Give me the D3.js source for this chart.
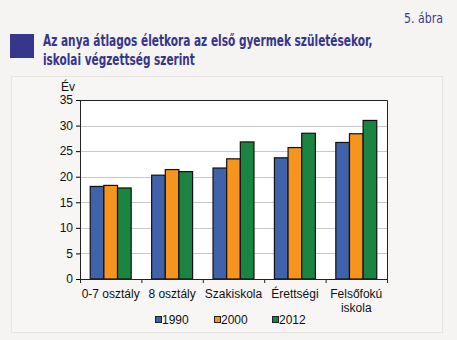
<!DOCTYPE html>
<html><head><meta charset="utf-8">
<script src="https://cdn.jsdelivr.net/npm/d3@7"></script>
<style>html,body{margin:0;padding:0;background:#f5f4f2;}</style>
</head><body>
<script>
const categories = [["0-7 osztály"], ["8 osztály"], ["Szakiskola"], ["Érettségi"], ["Felsőfokú", "iskola"]];
const seriesNames = ["1990", "2000", "2012"];
const v1990 = [18.1, 20.3, 21.7, 23.7, 26.7];
const v2000 = [18.3, 21.4, 23.5, 25.7, 28.4];
const v2012 = [17.8, 21.0, 26.8, 28.5, 31.0];
const yTicks = [0, 5, 10, 15, 20, 25, 30, 35];
const colors = ["#4062aa", "#f7941d", "#1b8442"];

const W = 457, H = 340;
const svg = d3.select("body").append("svg").attr("width", W).attr("height", H);
svg.append("rect").attr("width", W).attr("height", H).attr("fill", "#f5f4f2");
svg.append("rect").attr("x", 11.5).attr("y", 76.5).attr("width", 431).attr("height", 256)
  .attr("fill", "#f7f6f4").attr("stroke", "#e6e4e0");

// header: condensed text fitted by horizontal scaling
const tf = "DejaVu Sans Condensed, Liberation Sans Narrow, Arial";
function fitText(txt, x0, y0, width, size, weight, color, anchor) {
  const t = svg.append("text").attr("font-family", tf).attr("font-weight", weight)
    .attr("font-size", size).attr("fill", color).attr("text-anchor", anchor).text(txt);
  const nat = t.node().getComputedTextLength();
  const s = Math.min(1, width / nat);
  t.attr("transform", `translate(${x0},${y0}) scale(${s},1)`);
}
fitText("5. ábra", 443, 23, 39, 14, "normal", "#3d3d8e", "end");
svg.append("rect").attr("x", 10).attr("y", 34).attr("width", 24).attr("height", 24).attr("fill", "#36368a");
fitText("Az anya átlagos életkora az első gyermek születésekor,", 43, 46, 330, 16, "bold", "#36368a", "start");
fitText("iskolai végzettség szerint", 43, 65, 152, 16, "bold", "#36368a", "start");

const m = {l: 80, r: 387, t: 100, b: 279};
const x = d3.scaleBand().domain(d3.range(categories.length)).range([m.l, m.r]).paddingInner(0.333).paddingOuter(0.1667);
const x1 = d3.scaleBand().domain(seriesNames).range([0, x.bandwidth()]);
const y = d3.scaleLinear().domain([0, 35]).range([m.b, m.t]);

svg.append("rect").attr("x", m.l).attr("y", m.t).attr("width", m.r - m.l).attr("height", m.b - m.t).attr("fill", "#fff");
svg.append("g").selectAll("line").data(yTicks.filter(d => d > 0 && d < 35)).join("line")
  .attr("x1", m.l).attr("x2", m.r).attr("y1", d => Math.round(y(d)) + 0.5).attr("y2", d => Math.round(y(d)) + 0.5)
  .attr("stroke", "#c8c8c8").attr("stroke-width", 1);
svg.append("path").attr("d", `M${m.l},${m.t + 0.5}H${m.r + 0.5}V${m.b}`).attr("fill", "none").attr("stroke", "#222").attr("stroke-width", 1);

const data = [v1990, v2000, v2012];
const g = svg.append("g");
seriesNames.forEach((s, si) => {
  g.selectAll(null).data(data[si]).join("rect")
    .attr("x", (d, i) => x(i) + x1(s))
    .attr("y", d => y(d))
    .attr("width", x1.bandwidth())
    .attr("height", d => m.b - y(d))
    .attr("fill", colors[si]).attr("stroke", "#111").attr("stroke-width", 1.2);
});

const lf = "Liberation Sans Narrow, Arial";
const ya = svg.append("g").attr("transform", `translate(${m.l},0)`)
  .call(d3.axisLeft(y).tickValues(yTicks).tickSize(4).tickPadding(3));
ya.select(".domain").attr("stroke", "#222");
ya.selectAll("text").attr("font-family", lf).attr("font-size", 12).attr("fill", "#111");
svg.append("text").attr("x", 68).attr("y", 91).attr("text-anchor", "middle")
  .attr("font-family", lf).attr("font-size", 12).attr("fill", "#111").text("Év");

const xl = d3.scaleLinear().domain([0, 5]).range([m.l, m.r]);
const xa = svg.append("g").attr("transform", `translate(0,${m.b})`)
  .call(d3.axisBottom(xl).tickValues([0, 1, 2, 3, 4, 5]).tickSize(4).tickFormat(""));
xa.select(".domain").attr("stroke", "#222");
xa.selectAll("line").attr("stroke", "#222");
const xlab = svg.append("g");
categories.forEach((c, i) => {
  const t = xlab.append("text").attr("x", x(i) + x.bandwidth() / 2).attr("y", 298).attr("text-anchor", "middle")
    .attr("font-family", lf).attr("font-size", 12).attr("fill", "#111");
  c.forEach((line, li) => t.append("tspan").attr("x", x(i) + x.bandwidth() / 2).attr("dy", li === 0 ? 0 : 14).text(line));
});

const legX = [155, 214, 272];
seriesNames.forEach((s, i) => {
  svg.append("rect").attr("x", legX[i] + 0.5).attr("y", 316.5).attr("width", 6).attr("height", 6)
    .attr("fill", colors[i]).attr("stroke", "#222").attr("stroke-width", 1);
  svg.append("text").attr("x", legX[i] + 7).attr("y", 324).attr("font-family", lf)
    .attr("font-size", 12).attr("fill", "#111").text(s);
});
</script>
</body></html>
